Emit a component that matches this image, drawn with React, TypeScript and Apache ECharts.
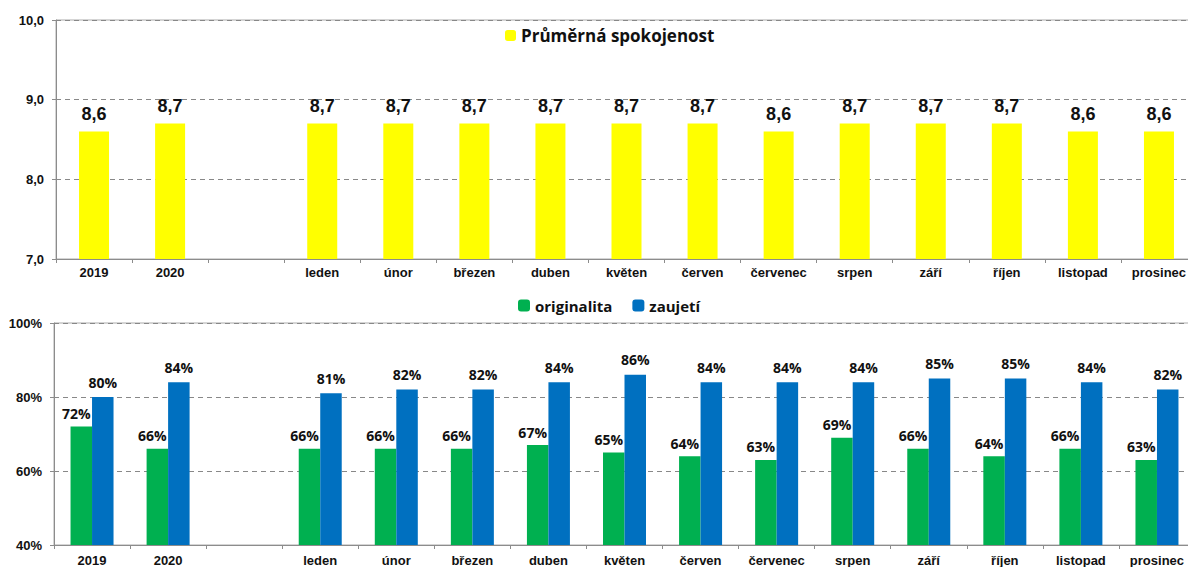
import React, { useEffect, useRef } from "react";
import * as echarts from "echarts";

const categories = ["2019", "2020", "", "leden", "únor", "březen", "duben", "květen", "červen", "červenec", "srpen", "září", "říjen", "listopad", "prosinec"];
const satisfaction = [8.6, 8.7, null, 8.7, 8.7, 8.7, 8.7, 8.7, 8.7, 8.6, 8.7, 8.7, 8.7, 8.6, 8.6];
const originality = [72, 66, null, 66, 66, 66, 67, 65, 64, 63, 69, 66, 64, 66, 63];
const engagement = [80, 84, null, 81, 82, 82, 84, 86, 84, 84, 84, 85, 85, 84, 82];
const topTicks = { min: 7, max: 10, interval: 1 };
const bottomTicks = { min: 40, max: 100, interval: 20 };

const AXIS_FONT = "'Liberation Sans', Arial, sans-serif";
const LABEL_FONT = "'Open Sans', 'Noto Sans', sans-serif";

export default function App() {
  const ref = useRef<HTMLDivElement>(null);
  useEffect(() => {
    if (!ref.current) return;
    const chart = echarts.init(ref.current, null, { renderer: "svg" });
    const axisLine = { lineStyle: { color: "#8c8c8c", width: 1 } };
    const xAxisCommon = {
      type: "category",
      data: categories,
      axisLine,
      axisTick: { show: true, inside: false, length: 4, lineStyle: { color: "#8c8c8c" } },
      axisLabel: { interval: 0, color: "#111", fontWeight: "bold", fontSize: 13, fontFamily: AXIS_FONT },
      splitLine: { show: false },
    };
    const yAxisCommon = {
      type: "value",
      axisLine: { show: true, ...axisLine },
      axisTick: { show: true, inside: false, length: 4, lineStyle: { color: "#8c8c8c" } },
      splitLine: { show: true, lineStyle: { color: "#888", type: [5, 4], width: 1 } },
    };
    chart.setOption({
      animation: false,
      backgroundColor: "#fff",
      grid: [
        { left: 56, top: 20, width: 1141, height: 239, show: true, borderColor: "#aaa", borderWidth: 1, containLabel: false },
        { left: 54, top: 323, width: 1141, height: 225, show: true, borderColor: "#aaa", borderWidth: 1, containLabel: false },
      ],
      legend: [
        {
          data: ["Průměrná spokojenost"],
          left: 505,
          top: 27,
          padding: 0,
          itemWidth: 11,
          itemHeight: 11,
          itemGap: 8,
          textStyle: { fontFamily: LABEL_FONT, fontWeight: "bold", fontSize: 17, color: "#111" },
        },
        {
          data: ["originalita", "zaujetí"],
          left: 518,
          top: 298,
          padding: 0,
          itemWidth: 12,
          itemHeight: 12,
          itemGap: 20,
          textStyle: { fontFamily: LABEL_FONT, fontWeight: "bold", fontSize: 15, color: "#111" },
        },
      ],
      xAxis: [
        { ...xAxisCommon, gridIndex: 0, axisLabel: { ...xAxisCommon.axisLabel, margin: 7 } },
        { ...xAxisCommon, gridIndex: 1, axisLabel: { ...xAxisCommon.axisLabel, margin: 9 } },
      ],
      yAxis: [
        {
          ...yAxisCommon,
          gridIndex: 0,
          min: topTicks.min,
          max: topTicks.max,
          interval: topTicks.interval,
          axisLabel: {
            color: "#111",
            fontWeight: "bold",
            fontSize: 13,
            fontFamily: AXIS_FONT,
            margin: 12,
            formatter: (v: number) => v.toFixed(1).replace(".", ","),
          },
        },
        {
          ...yAxisCommon,
          gridIndex: 1,
          min: bottomTicks.min,
          max: bottomTicks.max,
          interval: bottomTicks.interval,
          axisLabel: {
            color: "#111",
            fontWeight: "bold",
            fontSize: 13,
            fontFamily: AXIS_FONT,
            margin: 12,
            formatter: (v: number) => v + "%",
          },
        },
      ],
      series: [
        {
          name: "Průměrná spokojenost",
          type: "bar",
          xAxisIndex: 0,
          yAxisIndex: 0,
          data: satisfaction,
          barWidth: 30,
          itemStyle: { color: "#FFFF00" },
          label: {
            show: true,
            position: "top",
            distance: 9,
            color: "#111",
            fontWeight: "bold",
            fontSize: 18,
            fontFamily: AXIS_FONT,
            formatter: (p: any) => (p.value == null ? "" : Number(p.value).toFixed(1).replace(".", ",")),
          },
        },
        {
          name: "originalita",
          type: "bar",
          xAxisIndex: 1,
          yAxisIndex: 1,
          data: originality,
          barWidth: 21.5,
          barGap: "0%",
          itemStyle: { color: "#00B050" },
          label: {
            show: true,
            position: "top",
            distance: 6,
            offset: [-5, 0],
            color: "#111",
            fontWeight: "bold",
            fontSize: 14,
            fontFamily: LABEL_FONT,
            formatter: (p: any) => (p.value == null ? "" : p.value + "%"),
          },
        },
        {
          name: "zaujetí",
          type: "bar",
          xAxisIndex: 1,
          yAxisIndex: 1,
          data: engagement,
          barWidth: 21.5,
          barGap: "0%",
          itemStyle: { color: "#0070C0" },
          label: {
            show: true,
            position: "top",
            distance: 8,
            color: "#111",
            fontWeight: "bold",
            fontSize: 14,
            fontFamily: LABEL_FONT,
            formatter: (p: any) => (p.value == null ? "" : p.value + "%"),
          },
        },
      ],
    });
    return () => chart.dispose();
  }, []);
  return (
    <div style={{ position: "fixed", left: 0, top: 0, width: 1188, height: 567, overflow: "hidden", background: "#fff" }}>
      <div ref={ref} style={{ width: 1220, height: 567 }} />
    </div>
  );
}
